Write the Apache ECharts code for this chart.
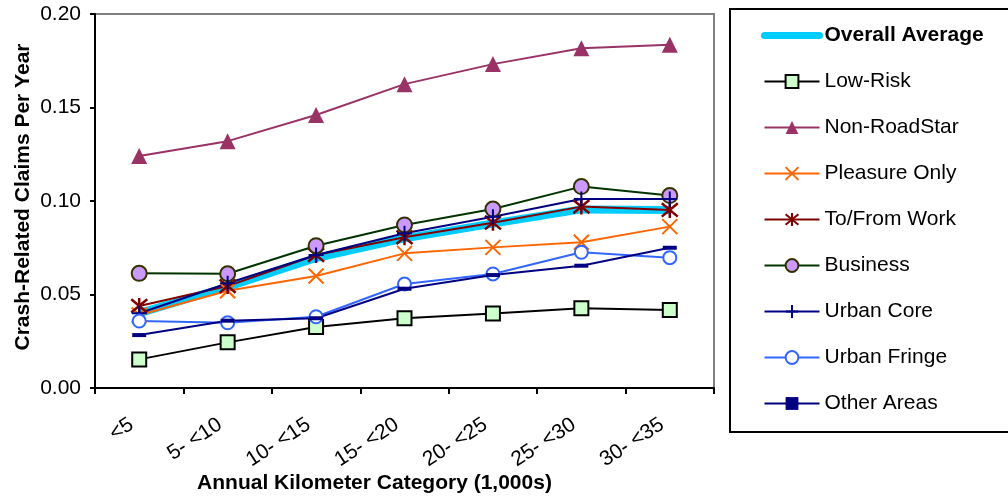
<!DOCTYPE html>
<html>
<head>
<meta charset="utf-8">
<script src="https://cdn.jsdelivr.net/npm/echarts@6/dist/echarts.min.js"></script>
<style>html,body{margin:0;padding:0;background:#fff;}#c{width:1008px;height:500px;}</style>
</head>
<body>
<div id="c"></div>
<script>
var categories = ['<5', '5- <10', '10- <15', '15- <20', '20- <25', '25- <30', '30- <35'];
var overallAverage = [0.040, 0.054, 0.0695, 0.080, 0.088, 0.0955, 0.0952];
var lowRisk = [0.0153, 0.0244, 0.0326, 0.0373, 0.0399, 0.0426, 0.0417];
var nonRoadStar = [0.1241, 0.132, 0.146, 0.1625, 0.1732, 0.1817, 0.1836];
var pleasureOnly = [0.039, 0.052, 0.0599, 0.072, 0.0752, 0.0779, 0.0863];
var toFromWork = [0.0439, 0.0545, 0.0711, 0.0806, 0.0884, 0.097, 0.0952];
var business = [0.0613, 0.0611, 0.0761, 0.0872, 0.0957, 0.1077, 0.1029];
var urbanCore = [0.040, 0.056, 0.0711, 0.0828, 0.0916, 0.1011, 0.1011];
var urbanFringe = [0.0358, 0.0349, 0.0381, 0.0556, 0.061, 0.0726, 0.0697];
var otherAreas = [0.0283, 0.036, 0.0373, 0.0531, 0.0604, 0.0654, 0.075];
var yTicks = [0, 0.05, 0.10, 0.15, 0.20];

var FONT = '"Liberation Sans", Arial, sans-serif';
var chart = echarts.init(document.getElementById('c'));

function lineSeries(name, data, color, symbol, size, itemStyle, width) {
  return {
    name: name, type: 'line', data: data,
    symbol: symbol, symbolSize: size,
    lineStyle: {color: color, width: width || 2},
    itemStyle: itemStyle,
    emphasis: {disabled: true},
    animation: false
  };
}

var option = {
  animation: false,
  textStyle: {fontFamily: FONT},
  grid: {left: 95, right: 294, top: 14, bottom: 112, show: true, borderColor: '#808080', borderWidth: 2,
    containLabel: false, outerBoundsMode: 'none'},
  graphic: [{
    type: 'rect', shape: {x: 730, y: 9, width: 290, height: 423},
    style: {fill: 'none', stroke: '#000', lineWidth: 2}, silent: true
  }],
  legend: {
    orient: 'vertical', left: 761, top: 24, padding: 0,
    itemWidth: 55, itemHeight: 16, itemGap: 23,
    textStyle: {fontSize: 21, color: '#000', fontFamily: FONT, lineHeight: 23,
      rich: {b: {fontSize: 21, fontWeight: 'bold', fontFamily: FONT, color: '#000', lineHeight: 23}}},
    formatter: function (n) { return n === 'Overall Average' ? '{b|' + n + '}' : n; },
    data: [
      {name: 'Overall Average', itemStyle: {opacity: 0}, lineStyle: {width: 7, cap: 'round', color: '#00CCFF'}},
      'Low-Risk', 'Non-RoadStar', 'Pleasure Only', 'To/From Work', 'Business', 'Urban Core', 'Urban Fringe', 'Other Areas']
  },
  xAxis: {
    type: 'category', data: categories, boundaryGap: true,
    axisLine: {lineStyle: {color: '#000', width: 2}},
    axisTick: {show: true, length: 6, lineStyle: {color: '#000', width: 2}},
    axisLabel: {rotate: 33, fontSize: 21, color: '#000', fontFamily: FONT, margin: 30, interval: 0, padding: [0, 9, 0, 0]},
    name: 'Annual Kilometer Category (1,000s)', nameLocation: 'middle', nameGap: 85, nameMoveOverlap: false,
    nameTextStyle: {fontSize: 21, fontWeight: 'bold', color: '#000', fontFamily: FONT, padding: [0, 60, 0, 0]}
  },
  yAxis: {
    type: 'value', min: 0, max: 0.20, interval: 0.05,
    splitLine: {show: false},
    axisLine: {show: true, lineStyle: {color: '#000', width: 2}},
    axisTick: {show: true, length: 5, lineStyle: {color: '#000', width: 2}},
    axisLabel: {fontSize: 21, color: '#000', fontFamily: FONT, margin: 14,
      formatter: function (v) { return v.toFixed(2); }},
    name: 'Crash-Related Claims Per Year', nameLocation: 'middle', nameGap: 61, nameMoveOverlap: false,
    nameTextStyle: {fontSize: 21, fontWeight: 'bold', color: '#000', fontFamily: FONT, padding: [0, 0, 0, 8]}
  },
  series: [
    lineSeries('Overall Average', overallAverage, '#00CCFF', 'none', 0, {color: '#00CCFF'}, 8),
    lineSeries('Low-Risk', lowRisk, '#000000', 'rect', 14, {color: '#CCFFCC', borderColor: '#000', borderWidth: 2}),
    lineSeries('Non-RoadStar', nonRoadStar, '#993366', 'triangle', 16, {color: '#993366'}),
    lineSeries('Pleasure Only', pleasureOnly, '#FF6600', 'path://M0,0L10,10M10,0L0,10', 15, {color: 'none', borderColor: '#FF6600', borderWidth: 2}),
    lineSeries('To/From Work', toFromWork, '#800000', 'path://M0,0L10,10M10,0L0,10M5,-1L5,11', 16, {color: 'none', borderColor: '#800000', borderWidth: 2.5}),
    lineSeries('Business', business, '#003300', 'circle', 15, {color: '#CC99FF', borderColor: '#333300', borderWidth: 2}),
    lineSeries('Urban Core', urbanCore, '#000080', 'path://M0,5L10,5M5,-3L5,13', 15, {color: 'none', borderColor: '#000080', borderWidth: 2}),
    lineSeries('Urban Fringe', urbanFringe, '#3366FF', 'circle', 13, {color: '#fff', borderColor: '#3366FF', borderWidth: 2}),
    lineSeries('Other Areas', otherAreas, '#000080', 'rect', [14, 4], {color: '#000080'})
  ]
};
chart.setOption(option);
</script>
</body>
</html>
